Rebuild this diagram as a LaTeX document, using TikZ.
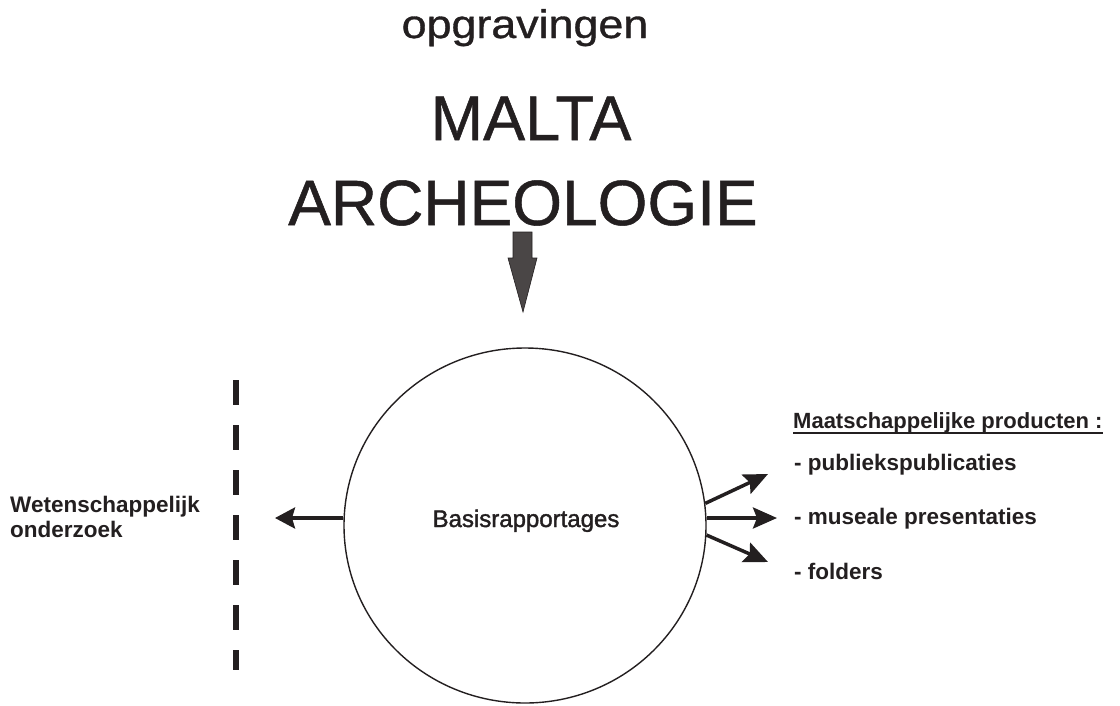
\documentclass[tikz,border=0pt]{standalone}
\usepackage{fontspec}
\setmainfont{Liberation Sans}
\newfontfamily\heavyfont[FakeBold=0.8]{Liberation Sans}
\newfontfamily\heavierfont[FakeBold=1.6]{Liberation Sans}
\usetikzlibrary{shapes.geometric,arrows.meta}
\definecolor{ink}{HTML}{231F20}
\definecolor{arrowgray}{HTML}{4A4646}
\begin{document}
\begin{tikzpicture}[x=1pt,y=-1pt,
  txt/.style={inner sep=0pt,text=ink},
  conn/.style={draw=ink,line width=3.5pt,-{Stealth[length=24pt,width=21pt,inset=4pt]}},
  boldtxt/.style={txt,font=\bfseries\fontsize{22.5}{27}\selectfont,anchor=base west}]
\useasboundingbox (0,0) rectangle (1120,705);

% titles
\node[txt,anchor=base] (opg) at (525,38) {\heavyfont\fontsize{40}{44}\selectfont\scalebox{1.12}[1]{opgravingen}};
\node[txt,anchor=base] (malta) at (531,140) {\heavyfont\fontsize{63}{70}\selectfont MALTA};
\node[txt,anchor=base] (arch) at (523,225) {\heavyfont\fontsize{64}{70}\selectfont ARCHEOLOGIE};

% block arrow
\filldraw[fill=arrowgray,draw=ink,line width=0.6pt] (513,232) -- (532,232) -- (532,258) -- (537,258) -- (523,312) -- (508,258) -- (513,258) -- cycle;

% circle
\node[draw=ink,line width=1.4pt,ellipse,minimum width=362pt,minimum height=355pt,inner sep=0pt] (circ) at (525,525.5) {};
\node[txt,anchor=base] (basis) at (526,527) {\heavierfont\fontsize{24}{28}\selectfont Basisrapportages};

% left side
\coordinate (lt) at (275,518);
\draw[conn,-{Stealth[length=20pt,width=21pt,inset=3pt]}] (circ.west |- lt) -- (lt);
\coordinate (dtop) at (236,380);
\coordinate (dbot) at (236,670);
\draw[ink,line width=6.5pt,dash pattern=on 25pt off 20pt] (dtop) -- (dbot);
\node[boldtxt] (wet1) at (10,512) {Wetenschappelijk};
\node[boldtxt] (wet2) at (10,537) {onderzoek};

% right side
\coordinate (rt1) at (768,474);
\coordinate (rt2) at (777,518);
\coordinate (rt3) at (768,562);
\draw[conn] (circ.7.1) -- (rt1);
\draw[conn] (circ.east |- rt2) -- (rt2);
\draw[conn] (circ.-3) -- (rt3);

\node[txt,font=\bfseries\fontsize{22}{27}\selectfont,anchor=base west] (title) at (793,428) {Maatschappelijke producten :};
\draw[ink,line width=1.8pt] ([yshift=-5pt]title.base west) -- ([yshift=-5pt]title.base east);
\node[boldtxt] (it1) at (794,470) {- publiekspublicaties};
\node[boldtxt] (it2) at (794,524) {- museale presentaties};
\node[boldtxt] (it3) at (794,579) {- folders};
\end{tikzpicture}
\end{document}
